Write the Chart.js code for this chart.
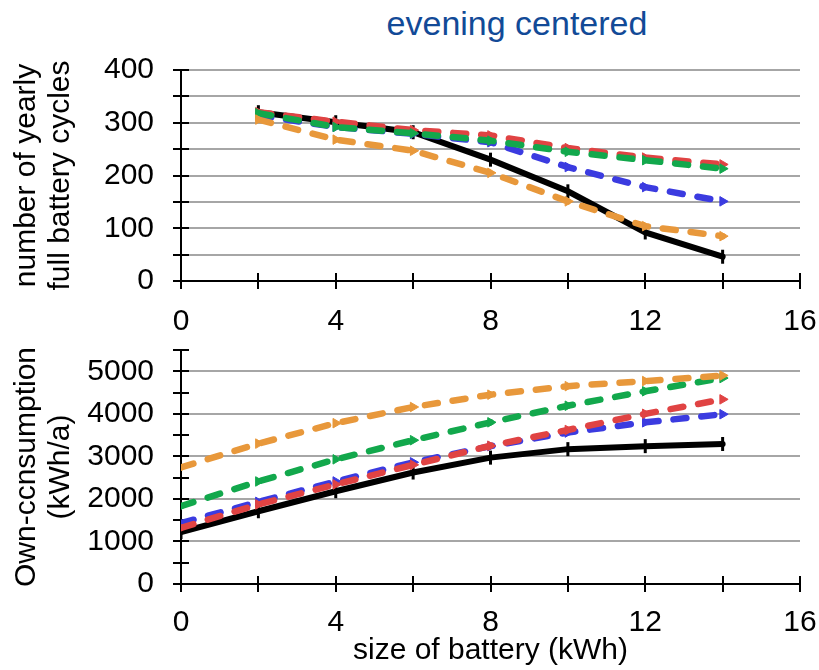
<!DOCTYPE html>
<html>
<head>
<meta charset="utf-8">
<script src="https://cdn.jsdelivr.net/npm/chart.js@4.4.1/dist/chart.umd.min.js"></script>
<style>
  body { margin: 0; background: #fff; }
  #wrap { position: relative; width: 819px; height: 670px; }
  #title {
    position: absolute; left: 0; top: 6px; width: 1034px;
    text-align: center; font: 34px/34px "Liberation Sans", Arial, sans-serif; color: #124a97;
  }
  canvas { position: absolute; left: 0; }
  #chart-cycles { top: 0; }
  #chart-own { top: 340px; }
</style>
</head>
<body>
<div id="wrap">
  <div id="title">evening centered</div>
  <canvas id="chart-cycles" width="819" height="340"></canvas>
  <canvas id="chart-own" width="819" height="330"></canvas>
</div>
<script>
// battery sizes (kWh)
const sizesCycles = [2, 4, 6, 8, 10, 12, 14];
const sizesOwn = [0, 2, 4, 6, 8, 10, 12, 14];

// yearly full battery cycles
const cyclesBlack = [320, 301, 282, 230, 170, 92, 46];
const cyclesRed = [320, 302, 286, 276, 252, 234, 221];
const cyclesGreen = [318, 292, 280, 266, 245, 229, 213];
const cyclesBlue = [314, 292, 279, 263, 216, 178, 151];
const cyclesOrange = [306, 268, 247, 205, 151, 104, 85];

// own consumption (kWh/a)
const ownBlack = [1220, 1710, 2180, 2620, 2970, 3170, 3240, 3290];
const ownRed = [1320, 1870, 2340, 2800, 3250, 3620, 4000, 4340];
const ownBlue = [1430, 1930, 2410, 2860, 3240, 3560, 3800, 3990];
const ownGreen = [1830, 2410, 2930, 3380, 3800, 4190, 4530, 4840];
const ownOrange = [2740, 3300, 3780, 4160, 4450, 4650, 4770, 4900];

const FONT = "'Liberation Sans', Arial, sans-serif";
const GRID = "#a6a6a6";

// black is solid, others dashed; lower order = drawn on top
const styles = {
  black: { color: "#000000", dash: [], order: 5, point: "line", width: 6 },
  blue: { color: "#3b3be0", dash: [13, 15], order: 4, point: "triangle", width: 6.5 },
  red: { color: "#e04343", dash: [13, 15], order: 3, point: "triangle", width: 6.5 },
  green: { color: "#12a84c", dash: [13, 15], order: 2, point: "triangle", width: 6.5 },
  orange: { color: "#e8983b", dash: [13, 15], order: 1, point: "triangle", width: 6.5 },
};

function makeDataset(name, xs, ys) {
  const s = styles[name];
  return {
    label: name,
    data: xs.map((x, i) => ({ x: x, y: ys[i] })),
    borderColor: s.color,
    backgroundColor: s.color,
    borderWidth: s.width,
    borderDash: s.dash,
    borderCapStyle: "round",
    order: s.order,
    pointStyle: s.point,
    pointRotation: 90,
    pointRadius: s.point === "line" ? 7 : 5.5,
    pointBorderWidth: s.point === "line" ? 3 : 1,
    tension: 0,
  };
}

// tick marks crossing the axis lines
const crossTicks = {
  id: "crossTicks",
  beforeDatasetsDraw(chart) {
    const c = chart.ctx;
    const x = chart.scales.x, y = chart.scales.y;
    const a = chart.chartArea;
    c.save();
    c.strokeStyle = "#000";
    c.lineWidth = 2;
    c.beginPath();
    y.ticks.forEach((t) => {
      const p = Math.round(y.getPixelForValue(t.value));
      c.moveTo(a.left - 8, p);
      c.lineTo(a.left + 8, p);
    });
    x.ticks.forEach((t) => {
      const p = Math.round(x.getPixelForValue(t.value));
      c.moveTo(p, a.bottom - 8);
      c.lineTo(p, a.bottom + 8);
    });
    c.stroke();
    c.restore();
  },
};

function xScale(labelPad, axisHeight, title) {
  return {
    type: "linear",
    min: 0,
    max: 16,
    ticks: {
      stepSize: 2,
      autoSkip: false,
      maxRotation: 0,
      padding: labelPad,
      color: "#000",
      font: { family: FONT, size: 30 },
      callback: (v) => (v % 4 === 0 ? v : ""),
    },
    grid: { display: false, drawTicks: false },
    border: { color: "#000", width: 2 },
    title: title
      ? { display: true, text: title, color: "#000", font: { family: FONT, size: 30, lineHeight: 1.2 }, padding: { top: 0, bottom: 1 } }
      : { display: false },
    afterFit: (s) => {
      s.height = axisHeight;
      s.paddingLeft = 0;
      s.paddingRight = 0;
    },
  };
}

function yScale(max, step, labelStep, allGrid, titleLines) {
  return {
    min: 0,
    max: max,
    ticks: {
      stepSize: step,
      autoSkip: false,
      padding: 27,
      color: "#000",
      font: { family: FONT, size: 30 },
      callback: (v) => (v % labelStep === 0 ? v : ""),
    },
    grid: {
      drawTicks: false,
      lineWidth: 2,
      color: (ctx) => {
        const v = ctx.tick ? ctx.tick.value : 0;
        if (v === 0) return "rgba(0,0,0,0)";
        return allGrid || v % labelStep === 0 ? GRID : "rgba(0,0,0,0)";
      },
    },
    border: { color: "#000", width: 2 },
    title: {
      display: true,
      text: titleLines,
      color: "#000",
      font: { family: FONT, size: 30, lineHeight: 1.15 },
      padding: { top: 9, bottom: 0 },
    },
    afterFit: (s) => {
      s.width = 181;
      s.paddingTop = 0;
      s.paddingBottom = 0;
    },
  };
}

function baseOptions(pad, scales) {
  return {
    responsive: false,
    animation: false,
    layout: { padding: pad },
    plugins: { legend: { display: false }, tooltip: { enabled: false } },
    scales: scales,
  };
}

new Chart(document.getElementById("chart-cycles"), {
  type: "line",
  data: {
    datasets: [
      makeDataset("black", sizesCycles, cyclesBlack),
      makeDataset("blue", sizesCycles, cyclesBlue),
      makeDataset("red", sizesCycles, cyclesRed),
      makeDataset("green", sizesCycles, cyclesGreen),
      makeDataset("orange", sizesCycles, cyclesOrange),
    ],
  },
  options: baseOptions(
    { left: 0, right: 19, top: 70, bottom: 0 },
    {
      x: xScale(23, 59, null),
      y: yScale(400, 50, 100, true, ["number of yearly", "full battery cycles"]),
    }
  ),
  plugins: [crossTicks],
});

new Chart(document.getElementById("chart-own"), {
  type: "line",
  data: {
    datasets: [
      makeDataset("black", sizesOwn, ownBlack),
      makeDataset("blue", sizesOwn, ownBlue),
      makeDataset("red", sizesOwn, ownRed),
      makeDataset("green", sizesOwn, ownGreen),
      makeDataset("orange", sizesOwn, ownOrange),
    ],
  },
  options: baseOptions(
    { left: 0, right: 19, top: 8, bottom: 0 },
    {
      x: xScale(21, 86, "size of battery (kWh)"),
      y: yScale(5500, 500, 1000, false, ["Own-ccnsumption", "(kWh/a)"]),
    }
  ),
  plugins: [crossTicks],
});
</script>
</body>
</html>
